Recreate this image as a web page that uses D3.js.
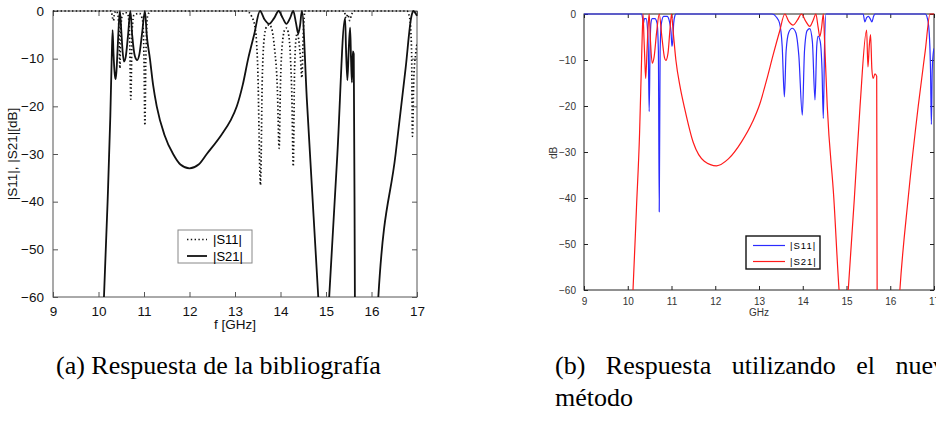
<!DOCTYPE html>
<html>
<head>
<meta charset="utf-8">
<script src="https://cdn.jsdelivr.net/npm/d3@7"></script>
<style>
  body { margin: 0; background: #fff; width: 936px; height: 425px; overflow: hidden; position: relative; }
  svg { position: absolute; left: 0; top: 0; }
  .cap { position: absolute; font-family: "Liberation Serif", "Times New Roman", serif; font-size: 26px;
         line-height: 32px; color: #000; white-space: nowrap; }
</style>
</head>
<body>
<svg id="chart" width="936" height="425"></svg>
<div class="cap" style="left:56px; top:350px;">(a) Respuesta de la bibliografía</div>
<div class="cap" style="left:555px; top:350px;">
  <div style="word-spacing:14px;">(b) Respuesta utilizando el nuevo</div>
  <div>método</div>
</div>
<script>
"use strict";

// axis ticks
var freqTicks = [9, 10, 11, 12, 13, 14, 15, 16, 17];
var dbTicks = [0, -10, -20, -30, -40, -50, -60];

// (a) reference response: [GHz, dB]
var refS11 = [[9,0],[10.28,0],[10.31,-1.5],[10.33,-2],[10.35,-0.5],[10.39,0],[10.42,-0.5],[10.45,-4],[10.47,-12],
  [10.49,-4],[10.52,-1],[10.58,-0.3],[10.64,-0.5],[10.68,-4],[10.71,-18.5],[10.74,-4],[10.78,-0.8],[10.9,-0.5],
  [10.97,-2],[11.0,-10],[11.02,-24],[11.04,-10],[11.08,-1],[11.15,0],[13.25,0],[13.37,-1.2],[13.45,-4],
  [13.5,-12],[13.56,-36.5],[13.6,-14],[13.65,-5],[13.7,-3.2],[13.75,-2.9],[13.8,-3.5],[13.87,-8],[13.93,-16],
  [13.97,-28.8],[14.0,-15],[14.05,-6],[14.1,-3.8],[14.13,-3.6],[14.17,-4.5],[14.22,-10],[14.25,-18],
  [14.28,-32.6],[14.31,-12],[14.35,-5.2],[14.37,-4.7],[14.4,-6],[14.44,-10],[14.47,-14],[14.5,-5],[14.54,0],
  [15.4,0],[15.44,-1.5],[15.48,-0.7],[15.52,-2],[15.56,-0.8],[15.62,0],[16.78,0],[16.84,-1.5],[16.88,-8],
  [16.9,-26.3],[16.93,-14],[16.97,-9],[17,-6.8]];

var refS21 = [[9.9,-85],[10.12,-60],[10.2,-40],[10.26,-22],[10.29,-10],[10.31,-4],[10.33,-9],[10.36,-13.5],
  [10.38,-14.3],[10.41,-10],[10.44,-4],[10.47,0],[10.5,-4],[10.53,-8.5],[10.56,-10.6],[10.6,-9.5],[10.65,-5],
  [10.7,0],[10.74,-5],[10.8,-9.5],[10.85,-10.3],[10.9,-9],[10.96,-4.5],[11.02,0],[11.06,-5],[11.13,-10],
  [11.2,-15.5],[11.28,-20],[11.45,-26],[11.64,-30],[11.8,-32.2],[12.0,-33],[12.2,-32.2],[12.38,-30],
  [12.7,-26],[12.9,-23],[13.04,-20],[13.17,-15.5],[13.29,-10],[13.42,-5],[13.55,0],[13.65,-1.8],
  [13.75,-2.7],[13.86,-1.5],[13.96,0],[14.05,-1.5],[14.13,-2.7],[14.21,-1.5],[14.28,0],[14.34,-2.5],
  [14.39,-4.7],[14.43,-3],[14.47,0],[14.58,-18.7],[14.83,-60],[14.95,-80],[15.07,-60],[15.25,-30],
  [15.42,-1.5],[15.44,-8],[15.47,-14.5],[15.5,-8],[15.53,-3.5],[15.55,-10],[15.57,-15],[15.59,-8.5],
  [15.61,-9],[15.635,-60],[15.65,-90],[16.0,-90],[16.15,-60],[16.53,-30],[16.75,-12],[16.88,-1],
  [16.92,0],[16.96,-0.4],[17,-1]];

// (b) new method response: [GHz, dB]
var newS11 = [[9,0],[10.32,0],[10.34,-1],[10.36,-2],[10.38,-1],[10.42,-1],[10.45,-3],[10.47,-8],[10.49,-21.2],
  [10.51,-7.5],[10.53,-2],[10.56,-1],[10.62,-1],[10.67,-2],[10.7,-8],[10.72,-43],[10.74,-8],[10.77,-2],
  [10.82,-0.5],[10.9,-0.5],[10.95,-1.5],[10.99,-4],[11.01,-7],[11.03,-5.8],[11.05,-2],[11.08,-0.3],[11.1,0],
  [13.3,0],[13.4,-0.7],[13.47,-2],[13.53,-7],[13.58,-18],[13.62,-8],[13.68,-4],[13.76,-3.1],[13.84,-4],
  [13.91,-9],[13.99,-22],[14.04,-8],[14.1,-3.6],[14.16,-3.2],[14.22,-6],[14.28,-18.7],[14.32,-7],
  [14.35,-4.8],[14.4,-6],[14.44,-12],[14.47,-22.7],[14.5,-6],[14.53,0],[15.38,0],[15.42,-1.7],[15.46,-0.8],
  [15.5,-0.5],[15.54,-1],[15.58,-1.7],[15.62,-0.5],[15.65,0],[16.8,0],[16.85,-1],[16.89,-4],[16.92,-12],
  [16.94,-24],[16.96,-12],[16.99,-8],[17,-7.5]];

var newS21 = [[9.9,-85],[10.12,-60],[10.2,-42],[10.27,-26],[10.31,-12],[10.33,-5],[10.35,0],[10.37,-5],
  [10.39,-10],[10.41,-14],[10.44,-8],[10.47,-2],[10.49,0],[10.52,-6],[10.56,-10.7],[10.6,-9.5],[10.66,-4],
  [10.72,0],[10.78,-5],[10.84,-9.5],[10.87,-10.1],[10.92,-8.5],[10.96,-4],[11.0,0],[11.04,-4],[11.1,-10],
  [11.2,-16],[11.3,-20.5],[11.5,-28],[11.75,-32],[12.03,-33],[12.3,-31.5],[12.6,-27.8],[12.85,-23.5],
  [13.02,-19.5],[13.17,-14.5],[13.32,-9],[13.47,-3.8],[13.59,0],[13.68,-1.6],[13.78,-2.4],[13.88,-1.3],
  [13.97,0],[14.07,-1.6],[14.16,-2.7],[14.24,-1.3],[14.3,0],[14.35,-2.8],[14.39,-4.9],[14.43,-3],[14.47,0],
  [14.5,-6],[14.56,-20],[14.71,-40],[14.83,-60],[14.95,-72],[15.04,-60],[15.18,-40],[15.31,-20],
  [15.46,-3.5],[15.49,-11.5],[15.52,-7],[15.55,-4.5],[15.58,-12],[15.61,-14],[15.65,-13],[15.69,-13.5],
  [15.7,-60],[15.71,-90],[16.05,-90],[16.22,-60],[16.41,-40],[16.64,-20],[16.8,-8],[16.91,0],[17,0]];

var svg = d3.select("#chart");

function drawPanel(o) {
  var x = d3.scaleLinear().domain([9, 17]).range([o.x0, o.x1]);
  var y = d3.scaleLinear().domain([0, -60]).range([o.y0, o.y1]);
  var g = svg.append("g");

  g.append("clipPath").attr("id", o.id + "clip")
    .append("rect").attr("x", o.x0).attr("y", o.y0 - 2)
    .attr("width", o.x1 - o.x0).attr("height", o.y1 - o.y0 + 2);

  // frame + ticks on all sides
  g.append("rect").attr("x", o.x0).attr("y", o.y0)
    .attr("width", o.x1 - o.x0).attr("height", o.y1 - o.y0)
    .attr("fill", "none").attr("stroke", o.frame).attr("stroke-width", 1);

  g.append("g").attr("transform", "translate(0," + o.y1 + ")")
    .call(d3.axisBottom(x).tickValues(freqTicks).tickSizeInner(-o.tick).tickSizeOuter(0).tickPadding(o.tick + 4))
    .call(function (a) {
      a.select(".domain").remove();
      a.selectAll("line").attr("stroke", o.frame);
      a.selectAll("text").attr("font-family", o.font).attr("font-size", o.fs).attr("fill", o.txt);
    });
  g.append("g").attr("transform", "translate(0," + o.y0 + ")")
    .call(d3.axisTop(x).tickValues(freqTicks).tickSizeInner(-o.tick).tickSizeOuter(0).tickFormat(""))
    .call(function (a) { a.select(".domain").remove(); a.selectAll("line").attr("stroke", o.frame); });
  g.append("g").attr("transform", "translate(" + o.x0 + ",0)")
    .call(d3.axisLeft(y).tickValues(dbTicks).tickSizeInner(-o.tick).tickSizeOuter(0).tickPadding(o.tick + 4))
    .call(function (a) {
      a.select(".domain").remove();
      a.selectAll("line").attr("stroke", o.frame);
      a.selectAll("text").attr("font-family", o.font).attr("font-size", o.fs).attr("fill", o.txt);
    });
  g.append("g").attr("transform", "translate(" + o.x1 + ",0)")
    .call(d3.axisRight(y).tickValues(dbTicks).tickSizeInner(-o.tick).tickSizeOuter(0).tickFormat(""))
    .call(function (a) { a.select(".domain").remove(); a.selectAll("line").attr("stroke", o.frame); });

  var line = d3.line().x(function (d) { return x(d[0]); }).y(function (d) { return y(d[1]); })
    .curve(d3.curveMonotoneX);

  var plot = g.append("g").attr("clip-path", "url(#" + o.id + "clip)");
  o.series.forEach(function (s) {
    plot.append("path").datum(s.data).attr("d", line)
      .attr("fill", "none").attr("stroke", s.color).attr("stroke-width", s.width)
      .attr("stroke-dasharray", s.dash || null).attr("stroke-linejoin", "round");
  });

  // axis titles
  g.append("text").attr("x", (o.x0 + o.x1) / 2 + o.xtDx).attr("y", o.xtY)
    .attr("text-anchor", "middle").attr("font-family", o.font).attr("font-size", o.fs)
    .attr("fill", o.txt).text(o.xTitle);
  g.append("text").attr("transform", "translate(" + o.ytX + "," + o.ytY + ") rotate(-90)")
    .attr("text-anchor", "middle").attr("font-family", o.font).attr("font-size", o.fs)
    .attr("fill", o.txt).text(o.yTitle);

  // legend
  var L = o.legend;
  var lg = g.append("g").attr("transform", "translate(" + L.x + "," + L.y + ")");
  lg.append("rect").attr("width", L.w).attr("height", L.h).attr("fill", "#fff")
    .attr("stroke", L.stroke).attr("stroke-width", L.sw);
  o.series.forEach(function (s, i) {
    var yy = L.row0 + i * L.dy;
    lg.append("line").attr("x1", L.lx0).attr("x2", L.lx1).attr("y1", yy).attr("y2", yy)
      .attr("stroke", s.color).attr("stroke-width", s.width).attr("stroke-dasharray", s.dash || null);
    lg.append("text").attr("x", L.tx).attr("y", yy + L.fs * 0.36)
      .attr("font-family", o.font).attr("font-size", L.fs).attr("letter-spacing", L.ls)
      .attr("fill", "#000").text(s.name);
  });
}

drawPanel({
  id: "a", x0: 53, x1: 417, y0: 11, y1: 297, tick: 5, frame: "#555", txt: "#111",
  font: "'Liberation Sans', Arial, sans-serif", fs: 13.5,
  xTitle: "f [GHz]", xtDx: 0, xtY: 329, yTitle: "|S11|, |S21|[dB]", ytX: 17, ytY: 154,
  series: [
    { name: "|S11|", data: refS11, color: "#111", width: 1.7, dash: "1.4,2.4" },
    { name: "|S21|", data: refS21, color: "#111", width: 1.8 }
  ],
  legend: { x: 178, y: 230, w: 74, h: 33, stroke: "#888", sw: 1, row0: 9.5, dy: 16.5,
            lx0: 9, lx1: 29, tx: 35, fs: 13, ls: 0 }
});

drawPanel({
  id: "b", x0: 584, x1: 934, y0: 14, y1: 290, tick: 4, frame: "#222", txt: "#333",
  font: "'Liberation Sans', Arial, sans-serif", fs: 10,
  xTitle: "GHz", xtDx: 0, xtY: 316, yTitle: "dB", ytX: 557, ytY: 153,
  series: [
    { name: "|S11|", data: newS11, color: "#2b2bff", width: 1.2 },
    { name: "|S21|", data: newS21, color: "#ff1a1a", width: 1.2 }
  ],
  legend: { x: 746, y: 236, w: 74, h: 33, stroke: "#111", sw: 1.4, row0: 9.5, dy: 16,
            lx0: 7, lx1: 39, tx: 44, fs: 9.5, ls: 1 }
});
</script>
</body>
</html>
